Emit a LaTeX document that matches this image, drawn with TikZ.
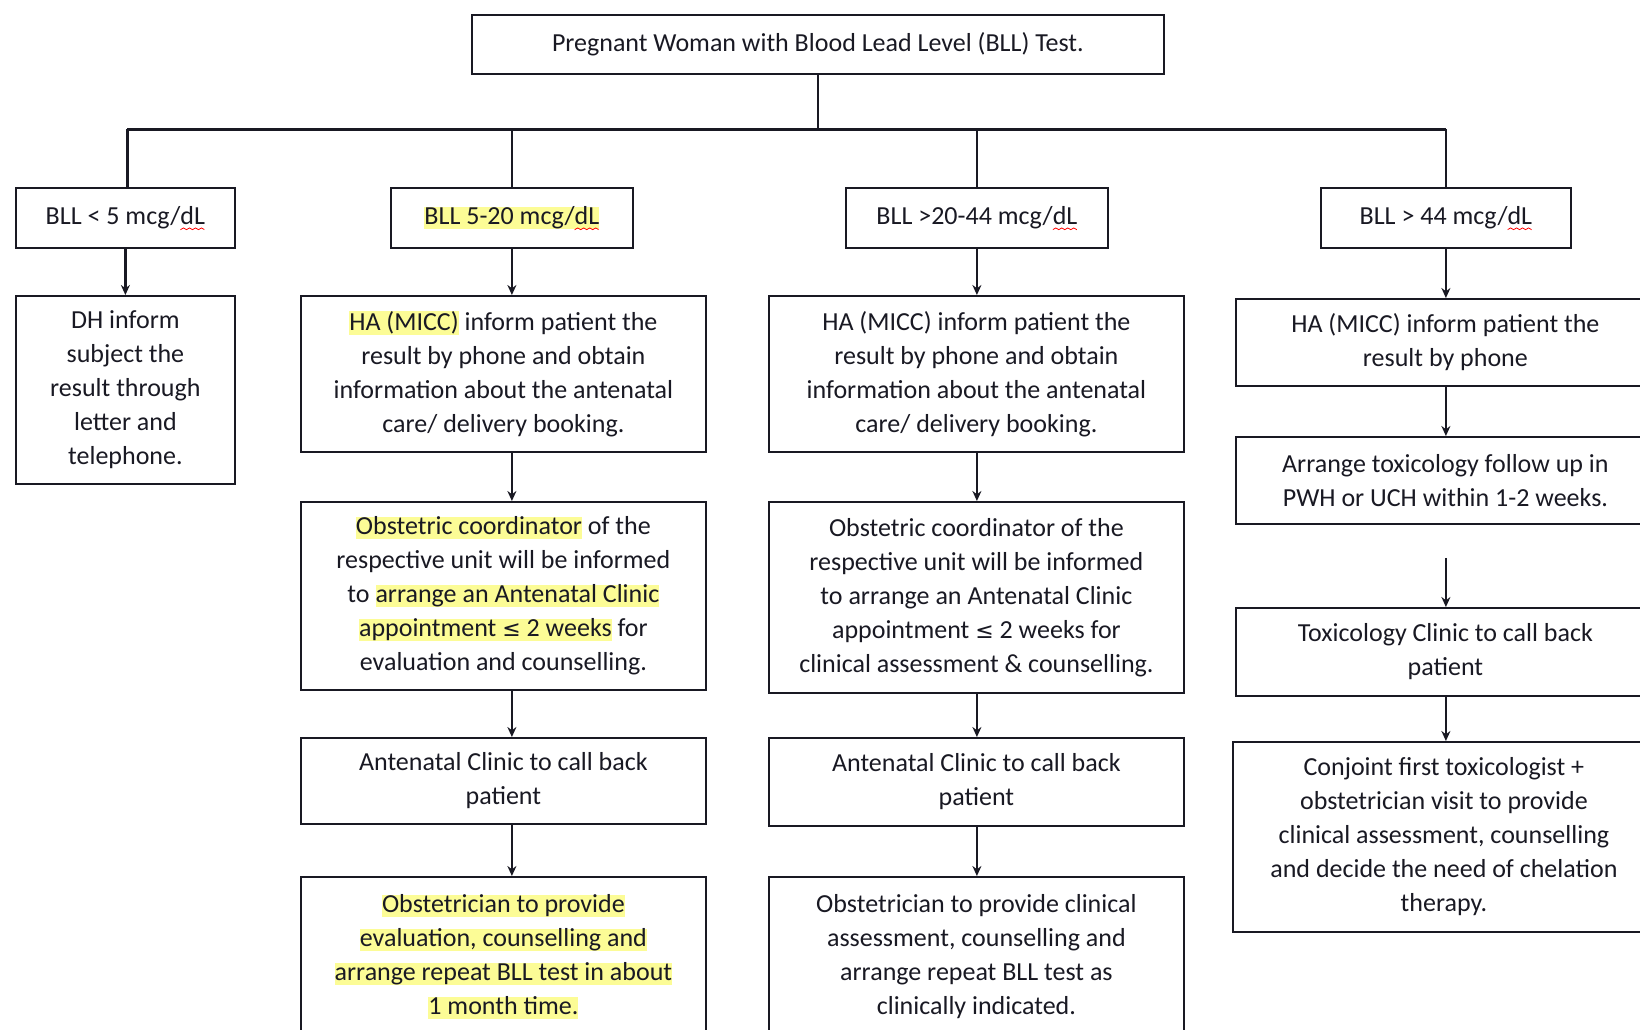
\documentclass[tikz,border=0pt]{standalone}
\usepackage{fontspec}
\setmainfont{Carlito}
\newfontfamily\symf{DejaVu Sans}
\usetikzlibrary{arrows.meta}
\definecolor{hl}{RGB}{252,252,150}
\definecolor{ink}{RGB}{25,25,35}
\newcommand\hlt[1]{{\setlength{\fboxsep}{0pt}\colorbox{hl}{\vphantom{Ag}#1}}}
\newcommand\leqs{{\symf\fontsize{22}{34}\selectfont ≤}}
\newcommand\sq[1]{\rlap{\smash{\begin{pgfpicture}\pgfsetbaseline{0pt}\pgfsetfillcolor{red}\pgfpathmoveto{\pgfpoint{0pt}{-4.5pt}}\foreach \i in {1,...,8}{\pgfpathlineto{\pgfpoint{\i*3pt}{\ifodd\i -2.8pt\else -4.5pt\fi}}}\foreach \i in {8,7,...,0}{\pgfpathlineto{\pgfpoint{\i*3pt}{\ifodd\i -3.7pt\else -5.4pt\fi}}}\pgfpathclose\pgfusepath{fill}\end{pgfpicture}}}#1}
\begin{document}
\begin{tikzpicture}[x=1pt,y=-1pt,
  box/.style={draw=ink,line width=1.8pt,align=center,inner sep=0pt,anchor=north west,text=ink,font=\fontsize{26}{34}\selectfont},
  conn/.style={draw=ink,line width=2.4pt},
  arrw/.style={conn,-{Stealth[length=10pt,width=9pt]}}]
\useasboundingbox[fill=white] (0,0) rectangle (1640,1030);

\node[box,minimum width=692pt,minimum height=59pt] (top) at (471,14) {Pregnant Woman with Blood Lead Level (BLL) Test.};

\node[box,minimum width=219pt,minimum height=60pt] (l1) at (15,187) {BLL < 5 mcg/\sq{dL}};
\node[box,minimum width=242pt,minimum height=60pt] (l2) at (390,187) {\hlt{BLL 5-20 mcg/\sq{dL}}};
\node[box,minimum width=262pt,minimum height=60pt] (l3) at (845,187) {BLL >20-44 mcg/\sq{dL}};
\node[box,minimum width=250pt,minimum height=60pt] (l4) at (1320,187) {BLL > 44 mcg/\sq{dL}};

\node[box,minimum width=219pt,minimum height=188pt] (a1) at (15,295) {DH inform\\subject the\\result through\\letter and\\telephone.};

\node[box,minimum width=405pt,minimum height=156pt] (b2) at (300,295) {\hlt{HA (MICC)} inform patient the\\result by phone and obtain\\information about the antenatal\\care/ delivery booking.};
\node[box,minimum width=405pt,minimum height=188pt] (c2) at (300,501) {\hlt{Obstetric coordinator} of the\\respective unit will be informed\\to \hlt{arrange an Antenatal Clinic}\\\hlt{appointment \leqs\ 2 weeks} for\\evaluation and counselling.};
\node[box,minimum width=405pt,minimum height=86pt] (d2) at (300,737) {Antenatal Clinic to call back\\patient};
\node[box,minimum width=405pt,minimum height=160pt] (e2) at (300,876) {\hlt{Obstetrician to provide}\\\hlt{evaluation, counselling and}\\\hlt{arrange repeat BLL test in about}\\\hlt{1 month time.}};

\node[box,minimum width=415pt,minimum height=156pt] (b3) at (768,295) {HA (MICC) inform patient the\\result by phone and obtain\\information about the antenatal\\care/ delivery booking.};
\node[box,minimum width=415pt,minimum height=191pt] (c3) at (768,501) {Obstetric coordinator of the\\respective unit will be informed\\to arrange an Antenatal Clinic\\appointment \leqs\ 2 weeks for\\clinical assessment \& counselling.};
\node[box,minimum width=415pt,minimum height=88pt] (d3) at (768,737) {Antenatal Clinic to call back\\patient};
\node[box,minimum width=415pt,minimum height=160pt] (e3) at (768,876) {Obstetrician to provide clinical\\assessment, counselling and\\arrange repeat BLL test as\\clinically indicated.};

\node[box,minimum width=419pt,minimum height=87pt] (b4) at (1235,298) {HA (MICC) inform patient the\\result by phone};
\node[box,minimum width=419pt,minimum height=87pt] (c4) at (1235,436) {Arrange toxicology follow up in\\PWH or UCH within 1-2 weeks.};
\node[box,minimum width=419pt,minimum height=88pt] (d4) at (1235,607) {Toxicology Clinic to call back\\patient};
\node[box,minimum width=422pt,minimum height=190pt] (e4) at (1232,741) {Conjoint first toxicologist +\\obstetrician visit to provide\\clinical assessment, counselling\\and decide the need of chelation\\therapy.};

% tree lines
\coordinate (bus) at (0,129.5);
\draw[conn] (top.south) -- (top.south |- bus);
\draw[conn] ([xshift=2pt]l1.north |- bus) -- (l4.north |- bus);
\draw[conn] ([xshift=2pt]l1.north |- bus) -- ([xshift=2pt]l1.north);
\draw[conn] (l2.north |- bus) -- (l2.north);
\draw[conn] (l3.north |- bus) -- (l3.north);
\draw[conn] (l4.north |- bus) -- (l4.north);

% arrows
\draw[arrw] (l1.south) -- (a1.north);
\draw[arrw] (l2.south) -- (l2.south |- b2.north);
\draw[arrw] (l2.south |- b2.south) -- (l2.south |- c2.north);
\draw[arrw] (l2.south |- c2.south) -- (l2.south |- d2.north);
\draw[arrw] (l2.south |- d2.south) -- (l2.south |- e2.north);
\draw[arrw] (l3.south) -- (l3.south |- b3.north);
\draw[arrw] (l3.south |- b3.south) -- (l3.south |- c3.north);
\draw[arrw] (l3.south |- c3.south) -- (l3.south |- d3.north);
\draw[arrw] (l3.south |- d3.south) -- (l3.south |- e3.north);
\draw[arrw] (l4.south) -- (l4.south |- b4.north);
\draw[arrw] (l4.south |- b4.south) -- (l4.south |- c4.north);
\draw[arrw] ([yshift=-33pt]l4.south |- c4.south) -- (l4.south |- d4.north);
\draw[arrw] (l4.south |- d4.south) -- (l4.south |- e4.north);
\end{tikzpicture}
\end{document}
